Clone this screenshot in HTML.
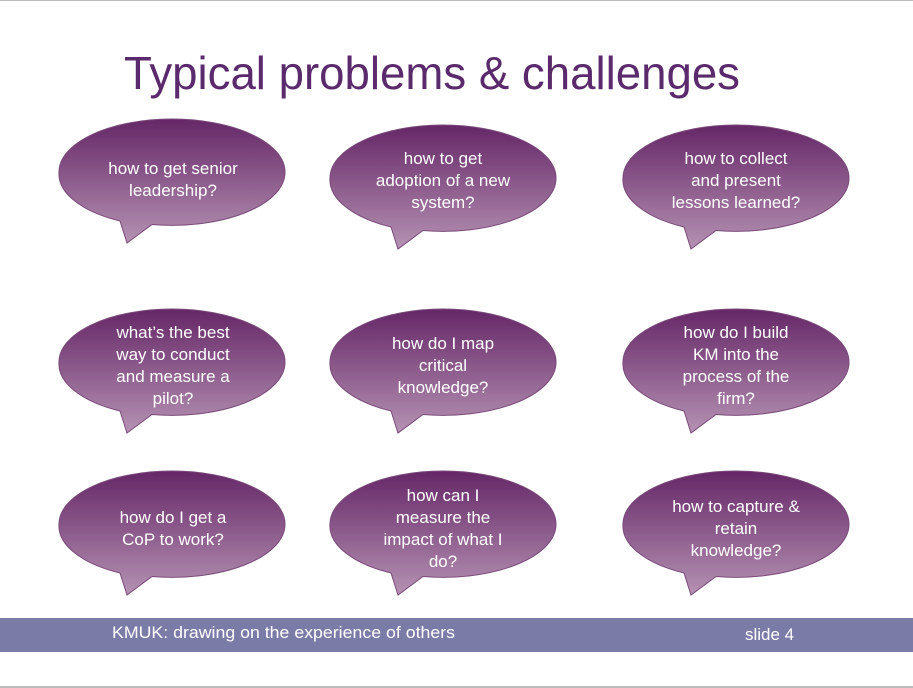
<!DOCTYPE html>
<html><head><style>
html,body{margin:0;padding:0;background:#fff;}
svg{display:block;}
text{font-family:"Liberation Sans",Arial,sans-serif;}
</style></head><body>
<svg width="913" height="688" viewBox="0 0 913 688" xmlns="http://www.w3.org/2000/svg">
<defs>
<linearGradient id="g" x1="0" y1="0" x2="0" y2="1">
<stop offset="0" stop-color="#652767"/>
<stop offset="1" stop-color="#b592b3"/>
</linearGradient>
<g id="b">
<path d="M-113,0 A113,53 0 0 1 113,0 A113,53 0 0 1 -20,52.5 L-45,71 L-52,49 A113,53 0 0 1 -113,0 Z" fill="url(#g)" stroke="#7a4a7a" stroke-width="1"/>
</g>
</defs>
<rect x="0" y="0" width="913" height="1" fill="#bbb"/>
<rect x="0" y="686" width="913" height="2" fill="#bbb"/>
<text x="432" y="89" font-size="46" fill="#5b2a6c" text-anchor="middle" textLength="616" lengthAdjust="spacingAndGlyphs">Typical problems &amp; challenges</text>

<use href="#b" x="172" y="172"/>
<use href="#b" x="443" y="178"/>
<use href="#b" x="736" y="178"/>
<use href="#b" x="172" y="362"/>
<use href="#b" x="443" y="362"/>
<use href="#b" x="736" y="362"/>
<use href="#b" x="172" y="524"/>
<use href="#b" x="443" y="524"/>
<use href="#b" x="736" y="524"/>

<g font-size="17" fill="#fff" text-anchor="middle">
<text x="173" y="174">how to get senior</text>
<text x="173" y="196">leadership?</text>
<text x="443" y="164">how to get</text>
<text x="443" y="186">adoption of a new</text>
<text x="443" y="208">system?</text>
<text x="736" y="164">how to collect</text>
<text x="736" y="186">and present</text>
<text x="736" y="208">lessons learned?</text>

<text x="173" y="338">what’s the best</text>
<text x="173" y="360">way to conduct</text>
<text x="173" y="382">and measure a</text>
<text x="173" y="404">pilot?</text>
<text x="443" y="349">how do I map</text>
<text x="443" y="371">critical</text>
<text x="443" y="393">knowledge?</text>
<text x="736" y="338">how do I build</text>
<text x="736" y="360">KM into the</text>
<text x="736" y="382">process of the</text>
<text x="736" y="404">firm?</text>

<text x="173" y="523">how do I get a</text>
<text x="173" y="545">CoP to work?</text>
<text x="443" y="501">how can I</text>
<text x="443" y="523">measure the</text>
<text x="443" y="545">impact of what I</text>
<text x="443" y="567">do?</text>
<text x="736" y="512">how to capture &amp;</text>
<text x="736" y="534">retain</text>
<text x="736" y="556">knowledge?</text>
</g>

<rect x="0" y="618" width="913" height="34" fill="#7b7ba8"/>
<text x="112" y="638" font-size="17" fill="#fff" textLength="343" lengthAdjust="spacingAndGlyphs">KMUK: drawing on the experience of others</text>
<text x="745" y="640" font-size="17" fill="#fff">slide 4</text>
</svg>
</body></html>
